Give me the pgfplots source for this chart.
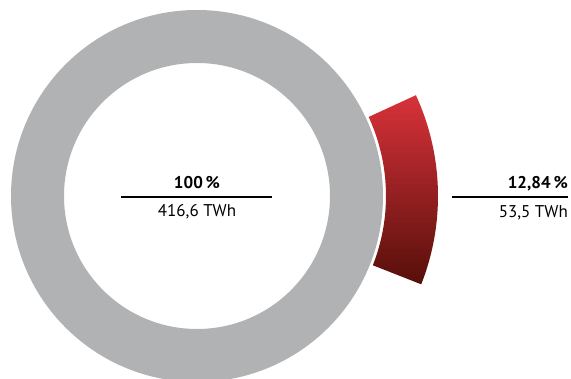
\documentclass[border=0pt]{standalone}
\usepackage{pgfplots}
\pgfplotsset{compat=1.18}
\usepackage{pgfplotstable}
\usetikzlibrary{calc}
\usepackage{fontspec}
\setmainfont{PT Sans}
\definecolor{ringgray}{HTML}{B1B2B4}
\definecolor{redtop}{HTML}{D8323A}
\definecolor{redbot}{HTML}{560F0A}
\pgfplotstableread{
label value twh
total 100 416.6
part 12.84 53.5
}\piedata
\pgfplotstablegetelem{0}{value}\of\piedata \let\totalval\pgfplotsretval
\pgfplotstablegetelem{1}{value}\of\piedata \let\partval\pgfplotsretval
\pgfmathsetmacro{\startang}{-21.5}
\pgfmathsetmacro{\endang}{\startang+\partval*3.6}
\begin{document}
\begin{tikzpicture}
\begin{axis}[
  width=571pt, height=379pt, scale only axis,
  xmin=0, xmax=571, ymin=0, ymax=379,
  axis lines=none, clip=false,
]
\coordinate (c) at (axis cs:197,183);
% gray full ring (100 %)
\fill[ringgray, even odd rule] (c) circle[radius=186pt] (c) circle[radius=133pt];
% red segment
\path[top color=redtop, bottom color=redbot]
  ($(c)+(\startang:189pt)$) arc[start angle=\startang, end angle=\endang, radius=189pt]
  -- ($(c)+(\endang:241pt)$) arc[start angle=\endang, end angle=\startang, radius=241pt]
  -- cycle;
% central label
\node[font=\bfseries\fontsize{17}{19}\selectfont, inner sep=0pt] at (axis cs:197,196) {100\,\%};
\draw[black, line width=1.2pt] (axis cs:121,182) -- (axis cs:272,182);
\node[font=\fontsize{17}{19}\selectfont, inner sep=0pt] at (axis cs:197,167) {416,6 TWh};
% right label
\node[font=\bfseries\fontsize{17}{19}\selectfont, inner sep=0pt, anchor=east] at (axis cs:568,195) {12,84\,\%};
\draw[black, line width=1.2pt] (axis cs:452,182) -- (axis cs:568,182);
\node[font=\fontsize{17}{19}\selectfont, inner sep=0pt, anchor=east] at (axis cs:568,166) {53,5 TWh};
\end{axis}
\pgfresetboundingbox
\path[use as bounding box] (current axis.south west) rectangle (current axis.north east);
\end{tikzpicture}
\end{document}
